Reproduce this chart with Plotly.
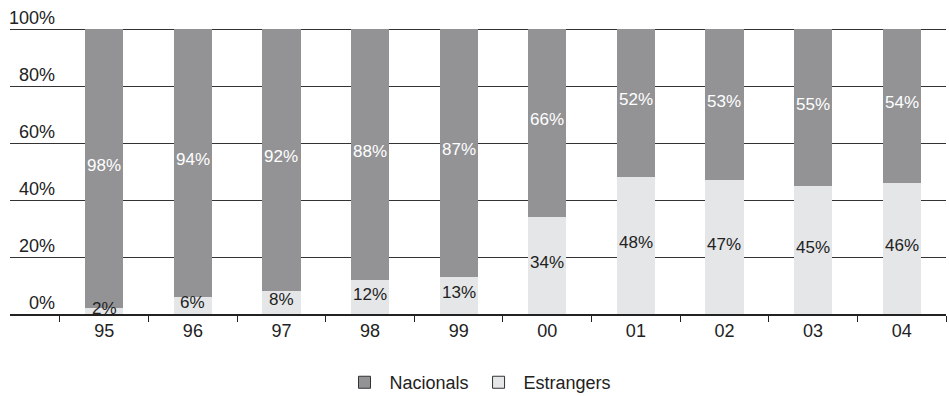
import plotly.graph_objects as go

years = ["95", "96", "97", "98", "99", "00", "01", "02", "03", "04"]
nacionals = [98, 94, 92, 88, 87, 66, 52, 53, 55, 54]
estrangers = [2, 6, 8, 12, 13, 34, 48, 47, 45, 46]
y_ticks = [0, 20, 40, 60, 80, 100]

C_NAC = "#939396"
C_EST = "#e5e6e8"
FONT = "Liberation Sans, Arial, sans-serif"
FS = 18

fig = go.Figure()
fig.add_trace(go.Bar(x=years, y=estrangers, marker=dict(color=C_EST, line=dict(width=0)),
                     width=0.43, showlegend=False, hoverinfo="skip"))
fig.add_trace(go.Bar(x=years, y=nacionals, marker=dict(color=C_NAC, line=dict(width=0)),
                     width=0.43, showlegend=False, hoverinfo="skip"))
# legend-only traces
fig.add_trace(go.Bar(x=[None], y=[None], name="Nacionals",
                     marker=dict(color=C_NAC, line=dict(color="#333", width=1))))
fig.add_trace(go.Bar(x=[None], y=[None], name="Estrangers",
                     marker=dict(color=C_EST, line=dict(color="#333", width=1))))

ann = []
for i, (n, e) in enumerate(zip(nacionals, estrangers)):
    ann.append(dict(x=i, y=e / 2 + 1, text=f"{e}%", showarrow=False, yanchor="middle",
                    font=dict(color="#222", size=17, family=FONT)))
    ann.append(dict(x=i, y=e + n / 2 + 1.2, text=f"{n}%", showarrow=False, yanchor="middle",
                    font=dict(color="white", size=17, family=FONT)))
for t in y_ticks:
    ann.append(dict(x=0.0502, xref="paper", y=t, yref="y", text=f"{t}%", showarrow=False,
                    xanchor="right", yanchor="bottom", yshift=-1,
                    font=dict(color="#222", size=FS, family=FONT)))

fig.update_layout(
    barmode="stack",
    width=949, height=396,
    margin=dict(l=10, r=3, t=28, b=82, autoexpand=False),
    paper_bgcolor="white", plot_bgcolor="white",
    font=dict(family=FONT, size=FS, color="#222"),
    annotations=ann,
    legend=dict(orientation="h", x=0.5, xanchor="center", y=-0.175, yanchor="top",
                traceorder="normal", font=dict(size=FS, color="#222"), itemclick=False,
                itemwidth=40),
    xaxis=dict(type="category", range=[-1.064, 9.5], tickson="boundaries",
               ticks="outside", ticklen=6, tickcolor="#222", tickwidth=1,
               showline=True, linecolor="#222", linewidth=1.5, showgrid=False,
               tickfont=dict(size=FS, color="#222")),
    yaxis=dict(range=[0, 100.4], tickvals=y_ticks, showticklabels=False,
               showgrid=True, gridcolor="#333", gridwidth=1, zeroline=False,
               showline=False),
    bargap=0.57,
)
fig.write_html("out.html", config={"displayModeBar": False, "staticPlot": True},
               post_script="document.body.style.margin='0px';document.body.style.overflow='hidden';")
